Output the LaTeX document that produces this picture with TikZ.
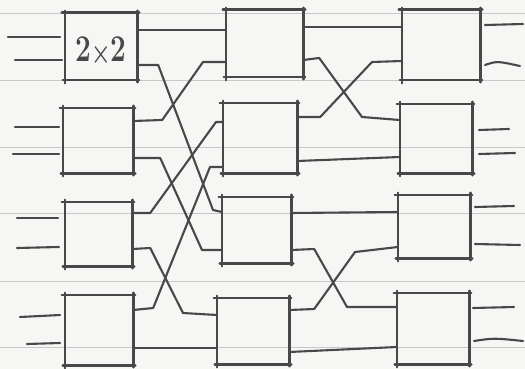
\documentclass[tikz,border=0pt]{standalone}
\usepackage{fontspec}
\usepackage{graphicx}
\definecolor{ink}{RGB}{72,72,72}
\definecolor{paper}{RGB}{246,246,245}
\definecolor{rule}{RGB}{200,200,200}
\newcommand\skbox[5]{%
  \node[inner sep=0pt, minimum width={(#4-#2)*1pt}, minimum height={(#5-#3)*1pt}]
    (#1) at ({(#2+#4)/2},{(#3+#5)/2}) {};
  \draw[boxline] ([xshift=-3pt]#1.north west) -- ([xshift=2pt]#1.north east);
  \draw[boxline] ([xshift=-2pt]#1.south west) -- ([xshift=2pt]#1.south east);
  \draw[boxline] ([yshift=2pt]#1.north west) -- ([yshift=-3pt]#1.south west);
  \draw[boxline] ([yshift=2pt]#1.north east) -- ([yshift=-2pt]#1.south east);
}
\begin{document}
\begin{tikzpicture}[x=1pt,y=-1pt,
  boxline/.style={draw=ink, line width=2.6pt, line cap=round},
  wire/.style={draw=ink, line width=2.1pt, line cap=round, line join=round},
  ruled/.style={draw=rule, line width=0.8pt}]
\useasboundingbox (0,0) rectangle (525,369);
\fill[paper] (0,0) rectangle (525,369);
% ruled paper lines
\foreach \yy in {13,80,147,213,281,347}
  \draw[ruled] (0,\yy) -- (525,\yy);

% boxes
\skbox{A1}{65}{13}{137}{80}
\skbox{A2}{63}{108}{133}{173}
\skbox{A3}{65}{202}{132}{266}
\skbox{A4}{65}{295}{133}{365}
\skbox{B1}{226}{10}{303}{77}
\skbox{B2}{223}{103}{297}{173}
\skbox{B3}{222}{197}{291}{263}
\skbox{B4}{217}{298}{289}{364}
\skbox{C1}{402}{10}{480}{80}
\skbox{C2}{400}{104}{472}{173}
\skbox{C3}{398}{195}{470}{258}
\skbox{C4}{397}{293}{469}{364}

\node[text=ink, inner sep=0pt] (lbl) at (101,50)
  {\scalebox{1}[1.35]{\fontsize{28}{28}\selectfont\bfseries 2\raisebox{-1pt}{\scalebox{0.8}{×}}2}};

% input stubs of the first column
\coordinate (A1i1) at (60,37);  \coordinate (A1i2) at (62,60);
\coordinate (A2i1) at (59,127); \coordinate (A2i2) at (59,154);
\coordinate (A3i1) at (58,218); \coordinate (A3i2) at (59,247);
\coordinate (A4i1) at (60,315); \coordinate (A4i2) at (60,343);
\draw[wire] (A1i1) -- ++(-52,0);
\draw[wire] (A1i2) -- ++(-47,0);
\draw[wire] (A2i1) -- ++(-44,0);
\draw[wire] (A2i2) -- ++(-46,0);
\draw[wire] (A3i1) -- ++(-41,0);
\draw[wire] (A3i2) -- ++(-42,1);
\draw[wire] (A4i1) -- ++(-40,2);
\draw[wire] (A4i2) -- ++(-33,1);

% output stubs of the last column
\coordinate (C1o1) at (485,25);  \coordinate (C1o2) at (485,65);
\coordinate (C2o1) at (479,130); \coordinate (C2o2) at (479,154);
\coordinate (C3o1) at (475,207); \coordinate (C3o2) at (475,244);
\coordinate (C4o1) at (473,308); \coordinate (C4o2) at (474,341);
\draw[wire] (C1o1) -- ++(38,-1);
\draw[wire] (C1o2) .. controls ++(12,-4) .. ++(35,1);
\draw[wire] (C2o1) -- ++(30,-1);
\draw[wire] (C2o2) -- ++(36,-1);
\draw[wire] (C3o1) -- ++(39,-1);
\draw[wire] (C3o2) -- ++(45,1);
\draw[wire] (C4o1) -- ++(41,-1);
\draw[wire] (C4o2) .. controls ++(20,-3) .. ++(49,0);

% stage 1 : column A -> column B
\draw[wire] (A1.east |- 0,30) -- (B1.west |- 0,30);
\draw[wire] (A1.east |- 0,65) -- ++(21,0) -- (213,210) -- (B3.west |- 0,212);
\draw[wire] (A2.east |- 0,121) -- ++(29,-1) -- (203,62) -- (B1.west |- 0,62);
\draw[wire] (A2.east |- 0,158) -- ++(27,0) -- (202,250) -- (B3.west |- 0,250);
\draw[wire] (A3.east |- 0,213) -- ++(18,0) -- (216,122) -- (B2.west |- 0,122);
\draw[wire] (A3.east |- 0,249) -- ++(18,-1) -- (183,313) -- (B4.west |- 0,315);
\draw[wire] (A4.east |- 0,310) -- ++(20,-2) -- (210,167) -- (B2.west |- 0,167);
\draw[wire] (A4.east |- 0,348) -- (B4.west |- 0,348);

% stage 2 : column B -> column C
\draw[wire] (B1.east |- 0,27) -- (C1.west |- 0,27);
\draw[wire] (B1.east |- 0,60) -- ++(16,-2) -- (362,117) -- (C2.west |- 0,120);
\draw[wire] (B2.east |- 0,117) -- ++(23,0) -- (372,62) -- (C1.west |- 0,61);
\draw[wire] (B2.east |- 0,161) -- (C2.west |- 0,157);
\draw[wire] (B3.east |- 0,213) -- (C3.west |- 0,212);
\draw[wire] (B3.east |- 0,250) -- ++(23,-1) -- (347,307) -- (C4.west |- 0,307);
\draw[wire] (B4.east |- 0,310) -- ++(25,-1) -- (355,252) -- (C3.west |- 0,247);
\draw[wire] (B4.east |- 0,352) -- (C4.west |- 0,347);
\end{tikzpicture}
\end{document}
